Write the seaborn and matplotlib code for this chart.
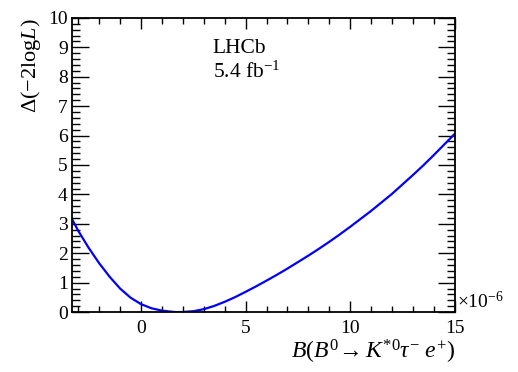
import numpy as np
import pandas as pd
import seaborn as sns
import matplotlib
matplotlib.use("Agg")
import matplotlib.pyplot as plt
from matplotlib.ticker import MultipleLocator

# profile likelihood scan (x in units of 1e-6)
bf = [-3.3, -3.0, -2.5, -2.0, -1.5, -1.0, -0.5, 0.0, 0.5, 1.0, 1.5, 1.7, 2.0, 2.5,
      3.0, 3.5, 4.0, 4.5, 5.0, 5.5, 6.0, 6.5, 7.0, 7.5, 8.0, 8.5, 9.0, 9.5, 10.0,
      10.5, 11.0, 11.5, 12.0, 12.5, 13.0, 13.5, 14.0, 14.5, 15.0]
dnll = [3.16, 2.76, 2.18, 1.66, 1.20, 0.80, 0.49, 0.27, 0.13, 0.05, 0.01, 0.0, 0.005, 0.03,
        0.10, 0.21, 0.35, 0.51, 0.69, 0.875, 1.07, 1.27, 1.48, 1.70, 1.92, 2.15, 2.39, 2.64, 2.90,
        3.17, 3.44, 3.73, 4.02, 4.34, 4.66, 4.99, 5.34, 5.70, 6.06]

df = pd.DataFrame({"bf": bf, "dnll": dnll})

sns.set_style("ticks", {"axes.edgecolor": "black", "text.color": "black",
                        "xtick.color": "black", "ytick.color": "black",
                        "axes.labelcolor": "black"})
plt.rcParams["font.family"] = ["Liberation Serif", "DejaVu Serif"]
plt.rcParams["mathtext.fontset"] = "custom"
plt.rcParams["mathtext.rm"] = "Liberation Serif"
plt.rcParams["mathtext.it"] = "Liberation Serif:italic"
plt.rcParams["mathtext.bf"] = "Liberation Serif:bold"

fig = plt.figure(figsize=(5.18, 3.72), dpi=100)
ax = fig.add_axes([0.139, 0.161, 0.739, 0.791])

sns.lineplot(data=df, x="bf", y="dnll", ax=ax, color="#0000ff", lw=1.6)

ax.set_xlim(-3.3, 15)
ax.set_ylim(0, 10)
ax.xaxis.set_major_locator(MultipleLocator(5))
ax.xaxis.set_minor_locator(MultipleLocator(1))
ax.yaxis.set_major_locator(MultipleLocator(1))
ax.yaxis.set_minor_locator(MultipleLocator(0.2))
ax.tick_params(which="both", direction="in", top=True, right=True, labelsize=14, width=1)
ax.tick_params(axis="x", which="major", length=8, pad=6)
ax.tick_params(axis="x", which="minor", length=4)
ax.tick_params(axis="y", which="major", length=12, pad=3)
ax.tick_params(axis="y", which="minor", length=6)
for s in ax.spines.values():
    s.set_linewidth(1.3)

ax.set_xlabel(r"$B(B^0\!\rightarrow K^{*0}\tau^{-}\ e^{+})$", fontsize=17, loc="right", labelpad=0)
ax.set_ylabel(r"$\mathit{\Delta}(-2\mathrm{log}L)$", fontsize=16, loc="top", labelpad=4)
ax.text(1.005, 0.0, r"$\times10^{-6}$", transform=ax.transAxes, fontsize=14, va="bottom", ha="left")

ax.text(0.368, 0.881, "LHCb", transform=ax.transAxes, fontsize=15.5, va="baseline")
ax.text(0.368, 0.796, r"5.4 fb$^{-1}$", transform=ax.transAxes, fontsize=15.5, va="baseline")

fig.savefig("out.png", dpi=100)
